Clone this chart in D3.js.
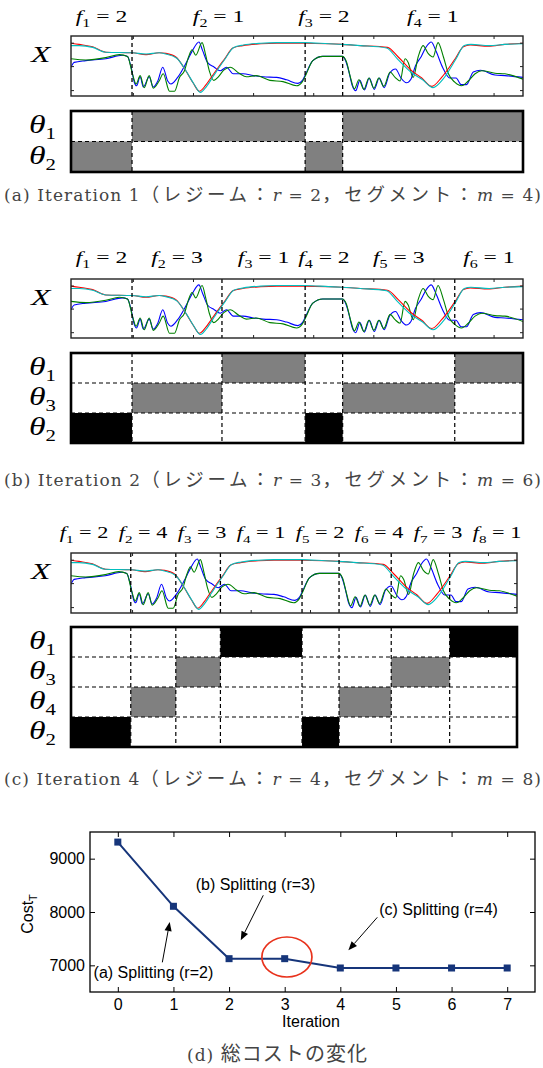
<!DOCTYPE html>
<html><head><meta charset="utf-8">
<script src="https://cdn.jsdelivr.net/npm/d3@7/dist/d3.min.js"></script>
<style>html,body{margin:0;padding:0;background:#fff;}svg{display:block;}</style>
</head><body>
<svg id="fig" width="543" height="1068" xmlns="http://www.w3.org/2000/svg"></svg>
<script>
// ================= DATA =================
// time series (time step 0..1000, normalised value 0..100)
const seriesBlue = [[0,48],[7,56],[33,59],[77,62],[114,68],[125,66],[133,48],[140,23],[145,17],[153,32],[160,15],[173,32],[182,15],[192,25],[203,48],[214,25],[221,20],[236,31],[254,54],[269,76],[283,90],[291,76],[302,56],[317,48],[330,42],[344,48],[359,37],[381,37],[403,34],[425,32],[455,31],[477,27],[502,21],[512,26],[520,38],[535,59],[557,66],[600,66],[608,58],[615,40],[622,18],[630,9],[639,26],[649,10],[660,30],[671,11],[682,30],[693,14],[705,38],[718,45],[730,30],[742,22],[752,28],[762,50],[775,66],[786,82],[797,90],[808,74],[822,48],[838,30],[852,30],[863,19],[875,19],[890,40],[906,43],[938,35],[960,34],[1000,31]];
const seriesGreen = [[0,62],[33,60],[77,64],[107,69],[125,66],[136,37],[144,20],[153,34],[162,14],[173,34],[182,13],[195,25],[204,37],[218,8],[229,8],[240,31],[251,42],[260,65],[268,77],[276,68],[290,89],[298,68],[306,42],[316,26],[326,32],[338,43],[352,48],[372,38],[388,32],[410,34],[440,26],[469,24],[499,17],[512,24],[520,36],[535,59],[557,66],[600,66],[609,58],[618,32],[627,12],[637,27],[648,11],[659,30],[670,13],[681,30],[692,16],[706,40],[717,31],[728,25],[739,62],[746,56],[757,31],[768,65],[779,84],[790,71],[801,65],[812,89],[824,65],[835,37],[849,23],[864,17],[879,25],[894,37],[909,42],[938,38],[960,37],[1000,28]];
const seriesRed = [[0,88],[18,86],[48,82],[77,73],[136,72],[166,69],[195,72],[210,71],[232,65],[254,42],[270,22],[284,8],[298,18],[312,33],[326,48],[340,62],[358,80],[380,84],[420,87],[455,88],[517,88],[570,87],[600,86],[640,84],[700,81],[724,65],[754,42],[776,30],[798,16],[820,31],[850,62],[868,82],[883,85],[923,83],[960,86],[1000,88]];
const seriesCyan = [[0,84],[18,84],[48,81],[77,73],[136,72],[166,70],[195,72],[210,70],[234,63],[256,40],[272,20],[286,6],[300,16],[314,32],[328,48],[342,63],[360,81],[382,85],[420,88],[455,89],[517,89],[570,87],[600,86],[640,84],[698,80],[722,62],[752,40],[778,27],[801,14],[823,28],[852,62],[870,84],[885,86],[925,84],[960,86],[1000,87]];
const timeTicks = [138,271,404,537,670,803,936];
const valueTicks = [9,49,88];

// panel (a)
const boundsA = [135,518,601];
const regimeA = [2,1,2,1];
const rowsA = [1,2];
const newA = [1,2];
// panel (b)
const boundsB = [135,334,518,601,849];
const regimeB = [2,3,1,2,3,1];
const rowsB = [1,3,2];
const newB = [1,3];
// panel (c)
const boundsC = [134,235,335,518,601,718,849];
const regimeC = [2,4,3,1,2,4,3,1];
const rowsC = [1,3,4,2];
const newC = [3,4];

const captionTags = ['a','b','c'];
const captionIters = [1,2,4];
const captionR = [2,3,4];
const captionM = [4,6,8];

// panel (d)
const iterations = [0,1,2,3,4,5,6,7];
const costs = [9311,8107,7125,7125,6950,6950,6950,6950];
const costTicks = [7000,8000,9000];
const annotTexts = ['(a) Splitting (r=2)','(b) Splitting (r=3)','(c) Splitting (r=4)'];
const annotTextAt = [[-0.435,6756],[1.40,8406],[4.70,7938]];
const arrowFrom = [[0.80,7056],[2.615,8313],[4.665,7900]];
const arrowTo = [[0.933,7812],[2.21,7469],[4.145,7281]];
const circleAt = [3.04,7156];

// ================= DRAW =================
const svg = d3.select('#fig');
const SERIF = "'Liberation Serif','Times New Roman',serif";
const CAPF = "'DejaVu Serif','Noto Sans CJK JP',serif";
const CJK = "'Noto Sans CJK JP'";
const SANS = "'Liberation Sans',Arial,sans-serif";

const layouts = [
  {x0:71,x1:523,xTop:36,xBot:96,thTop:111,thBot:172,fBase:22,capBase:201,fSize:17.5},
  {x0:71,x1:523,xTop:279,xBot:338,thTop:353,thBot:443,fBase:263,capBase:486,fSize:17.5},
  {x0:71,x1:517,xTop:553,xBot:613,thTop:627,thBot:747,fBase:538,capBase:785,fSize:16.5}
];
const panels = [
  [boundsA,regimeA,rowsA,newA],
  [boundsB,regimeB,rowsB,newB],
  [boundsC,regimeC,rowsC,newC]
];

function relax(cs, gap, lo, hi){
  const p = cs.slice();
  for(let it=0; it<200; it++){
    for(let i=0;i<p.length-1;i++){
      const d = p[i+1]-p[i];
      if(d<gap){const s=(gap-d)/2; p[i]-=s; p[i+1]+=s;}
    }
    p[0]=Math.max(p[0],lo); p[p.length-1]=Math.min(p[p.length-1],hi);
  }
  return p;
}

panels.forEach(([bounds,regime,rows,fresh],pi)=>{
  const L = layouts[pi];
  const g = svg.append('g');
  const x = d3.scaleLinear().domain([0,1000]).range([L.x0,L.x1]);
  const y = d3.scaleLinear().domain([0,100]).range([L.xBot,L.xTop]);
  const cid = 'clip'+pi;
  svg.append('clipPath').attr('id',cid).append('rect')
    .attr('x',L.x0).attr('y',L.xTop).attr('width',L.x1-L.x0).attr('height',L.xBot-L.xTop);
  const line = d3.line().x(d=>x(d[0])).y(d=>y(d[1])).curve(d3.curveMonotoneX);
  const gs = g.append('g').attr('clip-path',`url(#${cid})`);
  [[seriesBlue,'#0000ff'],[seriesGreen,'#008000'],[seriesRed,'#ff0000'],[seriesCyan,'#00bfbf']].forEach(([s,c])=>{
    gs.append('path').attr('d',line(s)).attr('fill','none').attr('stroke',c).attr('stroke-width',1.1);
  });
  // boundaries in X box
  bounds.forEach(b=>{
    g.append('line').attr('x1',x(b)).attr('x2',x(b)).attr('y1',L.xTop).attr('y2',L.xBot)
      .attr('stroke','#000').attr('stroke-width',1.3).attr('stroke-dasharray','4,3');
  });
  g.append('rect').attr('x',L.x0).attr('y',L.xTop).attr('width',L.x1-L.x0).attr('height',L.xBot-L.xTop)
    .attr('fill','none').attr('stroke','#222').attr('stroke-width',1.4);
  valueTicks.forEach(v=>{
    g.append('line').attr('x1',L.x0).attr('x2',L.x0+3).attr('y1',y(v)).attr('y2',y(v)).attr('stroke','#222');
    g.append('line').attr('x1',L.x1).attr('x2',L.x1-3).attr('y1',y(v)).attr('y2',y(v)).attr('stroke','#222');
  });
  timeTicks.forEach(t=>{
    g.append('line').attr('x1',x(t)).attr('x2',x(t)).attr('y1',L.xTop).attr('y2',L.xTop+3).attr('stroke','#222');
    g.append('line').attr('x1',x(t)).attr('x2',x(t)).attr('y1',L.xBot).attr('y2',L.xBot-3).attr('stroke','#222');
  });
  // X label
  g.append('text').attr('transform',`translate(31,${L.xTop+26}) scale(1.35,1)`)
    .attr('font-family',SERIF).attr('font-style','italic').attr('font-size',23.5).text('X');
  // f labels
  const edges = [0,...bounds,1000];
  const centers = regime.map((r,i)=>(x(edges[i])+x(edges[i+1]))/2);
  const pos = relax(centers,59,84,498);
  regime.forEach((r,i)=>{
    const s = L.fSize;
    const t = g.append('text').attr('transform',`translate(${pos[i]},${L.fBase}) scale(1.35,1)`)
      .attr('text-anchor','middle').attr('font-family',SERIF).attr('font-size',s).attr('fill','#000');
    t.append('tspan').attr('font-style','italic').text('f');
    t.append('tspan').attr('font-size',s*0.68).attr('dy',s*0.3).text(i+1);
    t.append('tspan').attr('dy',-s*0.3).text(' = '+r);
  });
  // theta box
  const yr = d3.scaleBand().domain(rows).range([L.thTop,L.thBot]);
  regime.forEach((r,i)=>{
    g.append('rect').attr('x',x(edges[i])).attr('width',x(edges[i+1])-x(edges[i]))
      .attr('y',yr(r)).attr('height',yr.bandwidth())
      .attr('fill',fresh.includes(r)?'#808080':'#000');
  });
  rows.slice(1).forEach(r=>{
    g.append('line').attr('x1',L.x0).attr('x2',L.x1).attr('y1',yr(r)).attr('y2',yr(r))
      .attr('stroke','#000').attr('stroke-width',1.2).attr('stroke-dasharray','4,3');
  });
  bounds.forEach(b=>{
    g.append('line').attr('x1',x(b)).attr('x2',x(b)).attr('y1',L.thTop).attr('y2',L.thBot)
      .attr('stroke','#000').attr('stroke-width',1.2).attr('stroke-dasharray','4,3');
  });
  g.append('rect').attr('x',L.x0).attr('y',L.thTop).attr('width',L.x1-L.x0).attr('height',L.thBot-L.thTop)
    .attr('fill','none').attr('stroke','#000').attr('stroke-width',2.6);
  rows.forEach(r=>{
    const yc = yr(r)+yr.bandwidth()/2;
    const t = g.append('text').attr('transform',`translate(29,${yc+7}) scale(1.3,1)`)
      .attr('font-family',SERIF).attr('font-size',26).attr('fill','#000');
    t.append('tspan').attr('font-style','italic').text('θ');
    t.append('tspan').attr('font-size',16).attr('dy',6).text(r);
  });
  // caption
  const c = svg.append('text').attr('x',4).attr('y',L.capBase).attr('textLength',537).attr('lengthAdjust','spacing')
    .attr('font-family',CAPF).attr('font-size',17).attr('fill','#444');
  c.append('tspan').text(`(${captionTags[pi]}) Iteration ${captionIters[pi]}`);
  c.append('tspan').attr('font-family',CJK).attr('font-size',18.5).attr('letter-spacing',2.5).text('（レジーム：');
  c.append('tspan').attr('font-style','italic').text('r');
  c.append('tspan').text(' = '+captionR[pi]);
  c.append('tspan').attr('font-family',CJK).attr('font-size',18.5).attr('letter-spacing',2.5).text('，セグメント：');
  c.append('tspan').attr('font-style','italic').text('m');
  c.append('tspan').text(` = ${captionM[pi]})`);
});

// ----- panel (d) -----
const X0=90, X1=535, Y0=832, Y1=992;
const dx = d3.scaleLinear().domain([-0.5,7.5]).range([X0,X1]);
const dy = d3.scaleLinear().domain([6500,9500]).range([Y1,Y0]);
const gd = svg.append('g');
function styleAxis(a){
  a.select('.domain').remove();
  a.attr('font-family',SANS).attr('font-size',16);
  a.selectAll('line').attr('stroke','#000');
  a.selectAll('text').attr('fill','#000');
}
gd.append('g').attr('transform',`translate(0,${Y1})`)
  .call(d3.axisBottom(dx).tickValues(iterations).tickSizeInner(-5).tickSizeOuter(0).tickPadding(7).tickFormat(d3.format('d'))).call(styleAxis);
gd.append('g').attr('transform',`translate(0,${Y0})`)
  .call(d3.axisTop(dx).tickValues(iterations).tickSizeInner(-5).tickSizeOuter(0).tickFormat('')).call(styleAxis);
gd.append('g').attr('transform',`translate(${X0},0)`)
  .call(d3.axisLeft(dy).tickValues(costTicks).tickSizeInner(-5).tickSizeOuter(0).tickPadding(5).tickFormat(d3.format('d'))).call(styleAxis);
gd.append('g').attr('transform',`translate(${X1},0)`)
  .call(d3.axisRight(dy).tickValues(costTicks).tickSizeInner(-5).tickSizeOuter(0).tickFormat('')).call(styleAxis);
gd.append('rect').attr('x',X0).attr('y',Y0).attr('width',X1-X0).attr('height',Y1-Y0)
  .attr('fill','none').attr('stroke','#000').attr('stroke-width',1.3);

const NAVY = '#16357a';
gd.append('path').datum(costs.map((c,i)=>[iterations[i],c]))
  .attr('d',d3.line().x(d=>dx(d[0])).y(d=>dy(d[1])))
  .attr('fill','none').attr('stroke',NAVY).attr('stroke-width',2);
gd.selectAll('rect.mk').data(costs).enter().append('rect').attr('class','mk')
  .attr('x',(d,i)=>dx(iterations[i])-3.5).attr('y',d=>dy(d)-3.5).attr('width',7).attr('height',7)
  .attr('fill',NAVY);

// red circle
gd.append('ellipse').attr('cx',dx(circleAt[0])).attr('cy',dy(circleAt[1]))
  .attr('rx',dx(circleAt[0]+0.45)-dx(circleAt[0])).attr('ry',dy(circleAt[1])-dy(circleAt[1]+375))
  .attr('fill','none').attr('stroke','#e8321c').attr('stroke-width',1.7);

// arrows
arrowFrom.forEach((f,i)=>{
  const x1=dx(f[0]), y1=dy(f[1]), x2=dx(arrowTo[i][0]), y2=dy(arrowTo[i][1]);
  const ang = Math.atan2(y2-y1,x2-x1), hl=9, hw=3.6;
  const bx = x2-hl*Math.cos(ang), by = y2-hl*Math.sin(ang);
  gd.append('line').attr('x1',x1).attr('y1',y1).attr('x2',bx).attr('y2',by).attr('stroke','#000').attr('stroke-width',1);
  const px = -Math.sin(ang), py = Math.cos(ang);
  gd.append('polygon').attr('points',`${x2},${y2} ${bx+hw*px},${by+hw*py} ${bx-hw*px},${by-hw*py}`).attr('fill','#000');
});
annotTexts.forEach((t,i)=>{
  gd.append('text').attr('x',dx(annotTextAt[i][0])).attr('y',dy(annotTextAt[i][1]))
    .attr('font-family',SANS).attr('font-size',16).attr('fill','#000').text(t);
});
// axis titles
gd.append('text').attr('x',311).attr('y',1027).attr('text-anchor','middle')
  .attr('font-family',SANS).attr('font-size',16).text('Iteration');
const yl = gd.append('text').attr('transform','translate(33,914) rotate(-90)').attr('text-anchor','middle')
  .attr('font-family',SANS).attr('font-size',16);
yl.append('tspan').text('Cost');
yl.append('tspan').attr('font-size',11).attr('dy',4).text('T');

// caption (d)
const cd = svg.append('text').attr('x',187).attr('y',1061).attr('textLength',180).attr('lengthAdjust','spacing')
  .attr('font-family',CAPF).attr('font-size',17).attr('fill','#444');
cd.append('tspan').text('(d) ');
cd.append('tspan').attr('font-family',CJK).attr('font-size',20).text('総コストの変化');
</script>
</body></html>
